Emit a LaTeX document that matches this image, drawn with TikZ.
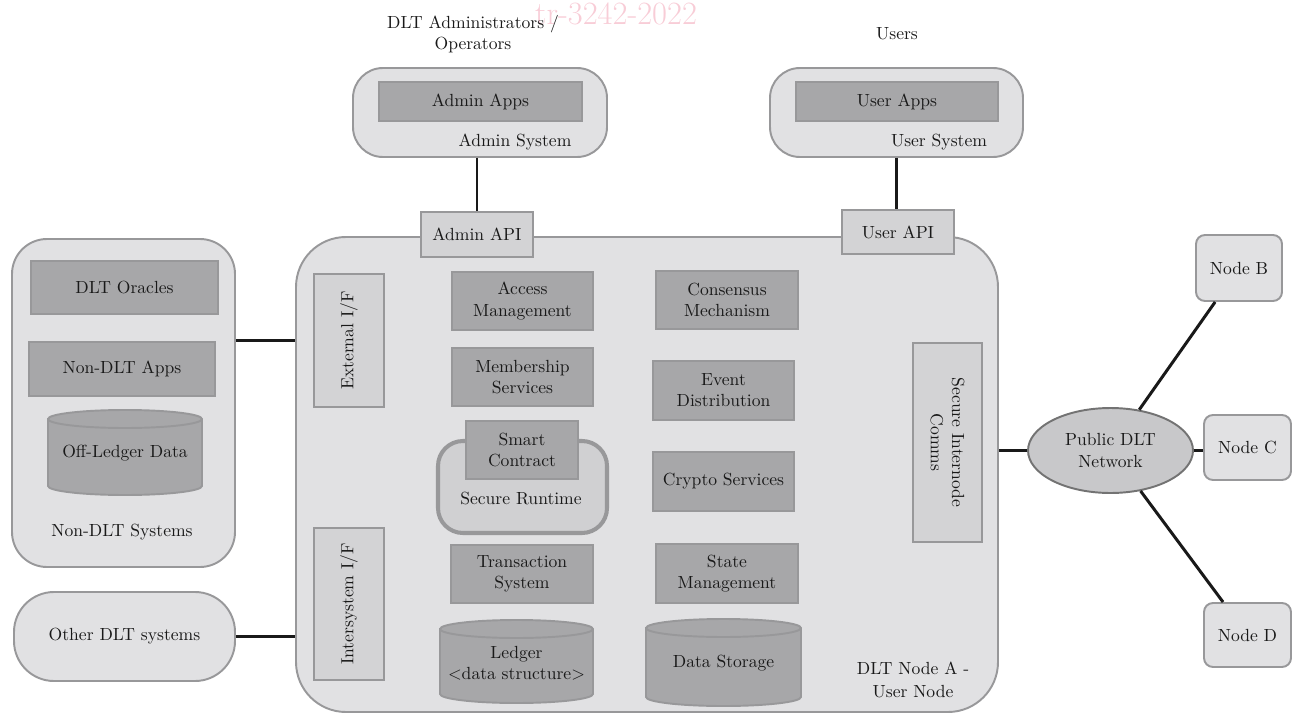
\documentclass[tikz,border=0pt]{standalone}
\usepackage{fontspec}
\usetikzlibrary{shapes.geometric}
\definecolor{lightbg}{RGB}{225,225,227}
\definecolor{darkbg}{RGB}{167,167,169}
\definecolor{midbg}{RGB}{211,211,213}
\definecolor{rtbg}{RGB}{208,208,210}
\definecolor{netbg}{RGB}{200,200,202}
\definecolor{bordc}{RGB}{152,152,154}
\definecolor{wmark}{RGB}{248,205,215}
\newcommand\mycyl[5]{%
  \filldraw[cylst] (#1,#2+9) -- (#1,#4-9) arc[start angle=180,end angle=360,x radius=#5cm,y radius=0.18cm] -- (#3,#2+9) arc[start angle=0,end angle=180,x radius=#5cm,y radius=0.18cm] -- cycle;
  \draw[cylst] (#1,#2+9) arc[start angle=180,end angle=360,x radius=#5cm,y radius=0.18cm];}
% box node from pixel corners: [style]{name}{L}{T}{R}{B}{text}
\newcommand\bnode[7][]{%
  \node[#1, minimum width={(#5-#3)*0.02cm}, minimum height={(#6-#4)*0.02cm}] (#2) at ({(#3+#5)/2},{(#4+#6)/2}) {#7};}
\begin{document}
\begin{tikzpicture}[x=0.02cm,y=-0.02cm,
  font=\fontsize{10}{12}\selectfont,
  every node/.style={align=center, text=black!90},
  box/.style={draw=bordc, line width=1.1pt, inner sep=0pt},
  lightbox/.style={box, fill=lightbg},
  darkbox/.style={box, fill=darkbg},
  midbox/.style={box, fill=midbg},
  cylst/.style={draw=bordc, line width=1.1pt, fill=darkbg},
  link/.style={draw=black!90, line width=1.7pt}]
\useasboundingbox (0,0) rectangle (1298,713);

% watermark
\node[text=wmark, font=\fontsize{18.5}{18.5}\selectfont, inner sep=0pt] (wm) at (616,14) {tr-3242-2022};

% top actors
\node (admins) at (473,34) {DLT Administrators /\\Operators};
\node (users) at (897,34) {Users};

% admin / user systems
\bnode[lightbox, rounded corners=0.6cm]{adminsys}{353}{68}{607}{157}{}
\bnode[darkbox]{adminapps}{379}{82}{582}{121}{Admin Apps}
\node (adminsyslbl) at (515,142) {Admin System};
\bnode[lightbox, rounded corners=0.6cm]{usersys}{770}{68}{1023}{157}{}
\bnode[darkbox]{userapps}{796}{82}{998}{121}{User Apps}
\node (usersyslbl) at (939,142) {User System};

% main node
\bnode[lightbox, rounded corners=1cm]{main}{296}{237}{998}{712}{}
\bnode[midbox]{adminapi}{421}{212}{533}{257}{Admin API}
\bnode[midbox]{userapi}{842}{210}{954}{254}{User API}

\bnode[midbox]{extif}{314}{274}{384}{407}{}
\node[rotate=90] (extiflbl) at (extif.center) {External I/F};
\bnode[midbox]{intif}{314}{528}{384}{680}{}
\node[rotate=90] (intiflbl) at (intif.center) {Intersystem I/F};

\bnode[darkbox]{access}{452}{272}{593}{330}{Access\\Management}
\bnode[darkbox]{member}{452}{348}{593}{406}{Membership\\Services}
\bnode[darkbox]{consensus}{656}{271}{798}{329}{Consensus\\Mechanism}
\bnode[darkbox]{event}{653}{361}{794}{420}{Event\\Distribution}
\bnode[darkbox]{crypto}{653}{452}{794}{511}{Crypto Services}
\bnode[darkbox]{trans}{451}{545}{593}{603}{Transaction\\System}
\bnode[darkbox]{state}{656}{544}{798}{603}{State\\Management}

\bnode[draw=bordc, line width=2.3pt, fill=rtbg, inner sep=0pt, rounded corners=0.5cm]{runtime}{438}{441}{607}{533}{}
\node (runtimelbl) at (521,498) {Secure Runtime};
\bnode[darkbox]{smart}{466}{421}{578}{479}{Smart\\Contract}

\bnode[midbox]{comms}{913}{343}{982}{542}{}
\node[rotate=-90] (commslbl) at (comms.center) {Secure Internode\\Comms};

\mycyl{440}{620}{593}{703}{1.53}
\node (ledger) at (516.5,663) {Ledger\\<data structure>};
\mycyl{646}{619}{801}{706}{1.55}
\node (datastore) at (723.5,663) {Data Storage};

\node (nodealbl) at (913,680) {DLT Node A -\\[1.5pt]User Node};

% left systems
\bnode[lightbox, rounded corners=0.7cm]{nondlt}{12}{239}{235}{567}{}
\bnode[darkbox]{oracles}{31}{261}{218}{314}{DLT Oracles}
\bnode[darkbox]{nondltapps}{29}{342}{215}{396}{Non-DLT Apps}
\mycyl{48}{410}{202}{495}{1.54}
\node (offledger) at (125,453) {Off-Ledger Data};
\node (nondltlbl) at (122,532) {Non-DLT Systems};

\bnode[lightbox, rounded corners=0.8cm]{otherdlt}{14}{592}{235}{681}{Other DLT systems}

% network
\node[ellipse, draw=black!55, line width=1.1pt, fill=netbg, minimum width=3.3cm, minimum height=1.7cm, inner sep=0pt] (net) at (1110.5,450.5) {Public DLT\\Network};
\bnode[lightbox, rounded corners=0.18cm]{nodeb}{1196}{235}{1282}{301}{Node B}
\bnode[lightbox, rounded corners=0.18cm]{nodec}{1204}{415}{1291}{480}{Node C}
\bnode[lightbox, rounded corners=0.18cm]{noded}{1204}{603}{1291}{667}{Node D}

% connectors
\draw[link] (adminapi.north |- adminsys.south) -- (adminapi.north);
\draw[link] (usersys.south) -- (usersys.south |- userapi.north);
\draw[link] (nondlt.east |- extif.center) -- (main.west |- extif.center);
\draw[link] (otherdlt.east) -- (main.west |- otherdlt.east);
\draw[link] (main.east |- net.west) -- (net.west);
\draw[link] (net.east) -- (nodec.west |- net.east);
\draw[link] (net) -- (nodeb);
\draw[link] (net) -- (noded);
\end{tikzpicture}
\end{document}
